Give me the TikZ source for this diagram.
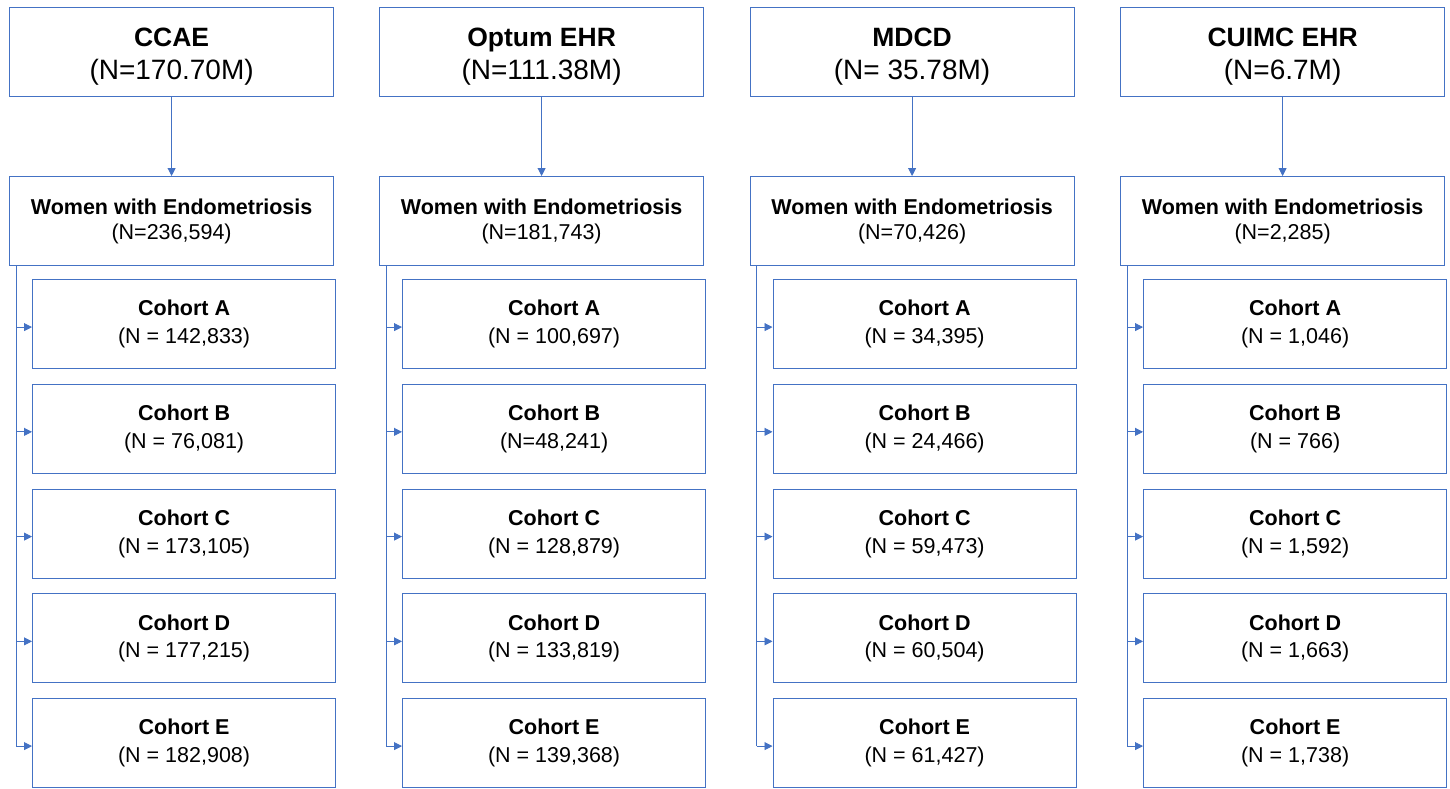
\documentclass[tikz,border=0pt]{standalone}
\usepackage{fontspec}
\setmainfont{Liberation Sans}
\usetikzlibrary{arrows.meta,calc}
\definecolor{bord}{HTML}{4472C4}
\newcommand\ttlfont{\fontsize{26.5}{33}\selectfont\bfseries\rule{0pt}{28.5pt}}
\begin{document}
\begin{tikzpicture}[x=1pt,y=-1pt,
  box/.style={draw=bord, line width=1.2pt, anchor=north west, align=center, inner sep=0pt, minimum height=89pt},
  topbox/.style={box, minimum width=324pt, font=\fontsize{28}{33}\selectfont},
  wbox/.style={box, minimum width=324pt, font=\fontsize{21.5}{25}\selectfont},
  cbox/.style={box, minimum width=303pt, font=\fontsize{21.5}{27.7}\selectfont},
  conn/.style={draw=bord, line width=0.9pt},
  arr/.style={conn, -{Triangle[length=8pt,width=8pt]}}]
\useasboundingbox (0,0) rectangle (1450,788);

% ---------- Column 1: CCAE ----------
\node[topbox] (t1) at (9,7) {{\ttlfont CCAE}\\(N=170.70M)};
\node[wbox] (w1) at (9,176) {\textbf{Women with Endometriosis}\\(N=236,594)};
\node[cbox] (a1) at (32,279) {\textbf{Cohort A}\\(N = 142,833)};
\node[cbox] (b1) at (32,383.75) {\textbf{Cohort B}\\(N = 76,081)};
\node[cbox] (c1) at (32,488.5) {\textbf{Cohort C}\\(N = 173,105)};
\node[cbox] (d1) at (32,593.25) {\textbf{Cohort D}\\(N = 177,215)};
\node[cbox] (e1) at (32,698) {\textbf{Cohort E}\\(N = 182,908)};

% ---------- Column 2: Optum EHR ----------
\node[topbox] (t2) at (379,7) {{\ttlfont Optum EHR}\\(N=111.38M)};
\node[wbox] (w2) at (379,176) {\textbf{Women with Endometriosis}\\(N=181,743)};
\node[cbox] (a2) at (402,279) {\textbf{Cohort A}\\(N = 100,697)};
\node[cbox] (b2) at (402,383.75) {\textbf{Cohort B}\\(N=48,241)};
\node[cbox] (c2) at (402,488.5) {\textbf{Cohort C}\\(N = 128,879)};
\node[cbox] (d2) at (402,593.25) {\textbf{Cohort D}\\(N = 133,819)};
\node[cbox] (e2) at (402,698) {\textbf{Cohort E}\\(N = 139,368)};

% ---------- Column 3: MDCD ----------
\node[topbox] (t3) at (749.5,7) {{\ttlfont MDCD}\\(N= 35.78M)};
\node[wbox] (w3) at (749.5,176) {\textbf{Women with Endometriosis}\\(N=70,426)};
\node[cbox] (a3) at (772.5,279) {\textbf{Cohort A}\\(N = 34,395)};
\node[cbox] (b3) at (772.5,383.75) {\textbf{Cohort B}\\(N = 24,466)};
\node[cbox] (c3) at (772.5,488.5) {\textbf{Cohort C}\\(N = 59,473)};
\node[cbox] (d3) at (772.5,593.25) {\textbf{Cohort D}\\(N = 60,504)};
\node[cbox] (e3) at (772.5,698) {\textbf{Cohort E}\\(N = 61,427)};

% ---------- Column 4: CUIMC EHR ----------
\node[topbox] (t4) at (1120,7) {{\ttlfont CUIMC EHR}\\(N=6.7M)};
\node[wbox] (w4) at (1120,176) {\textbf{Women with Endometriosis}\\(N=2,285)};
\node[cbox] (a4) at (1143,279) {\textbf{Cohort A}\\(N = 1,046)};
\node[cbox] (b4) at (1143,383.75) {\textbf{Cohort B}\\(N = 766)};
\node[cbox] (c4) at (1143,488.5) {\textbf{Cohort C}\\(N = 1,592)};
\node[cbox] (d4) at (1143,593.25) {\textbf{Cohort D}\\(N = 1,663)};
\node[cbox] (e4) at (1143,698) {\textbf{Cohort E}\\(N = 1,738)};

% ---------- Connectors ----------
\foreach \k in {1,2,3,4}{
  \draw[arr] (t\k.south) -- (w\k.north);
  \coordinate (tr\k) at ($(w\k.south west)+(7,0)$);
  \draw[conn] (tr\k) -- ([yshift=-3pt]tr\k |- e\k.west);
  \foreach \c in {a,b,c,d,e}{
    \draw[arr] ([yshift=-3pt]tr\k |- \c\k.west) -- ([yshift=-3pt]\c\k.west);
  }
}
\end{tikzpicture}
\end{document}
